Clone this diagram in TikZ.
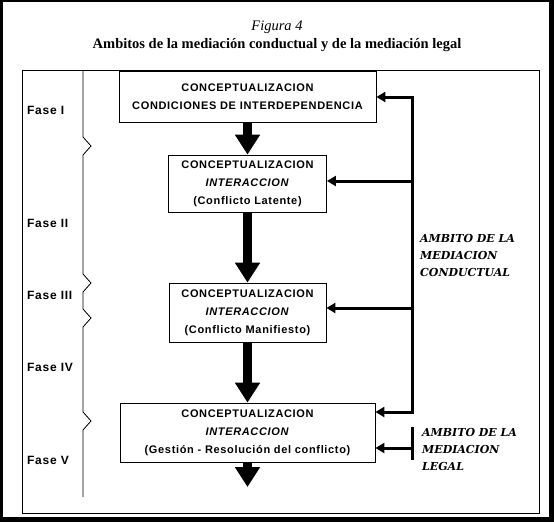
\documentclass[tikz,border=0pt]{standalone}
\usepackage{fontspec}
\setmainfont{Liberation Serif}
\setsansfont{Liberation Sans}
\newfontfamily\boxFamily[LetterSpace=6]{Liberation Sans}
\newfontfamily\ambitoFamily{DejaVu Serif}
\usetikzlibrary{arrows.meta,positioning}
\tikzstyle{diagram} = [x = 1pt, y = -1pt]
\tikzstyle{phaseBox} = [draw, line width=.8pt, align=center, inner sep=0pt, font=\boxFamily\bfseries\fontsize{11}{18}\selectfont]
\tikzstyle{flowArrow} = [line width=9pt, -{Triangle[length=20pt, width=24pt]}]
\tikzstyle{backLine} = [line width=3pt]
\tikzstyle{backArrow} = [line width=3pt, -{Triangle[length=9pt, width=10pt]}]
\tikzstyle{faseText} = [anchor=west, inner sep=0pt, font=\boxFamily\bfseries\fontsize{12}{14}\selectfont]
\tikzstyle{ambitoText} = [anchor=west, align=left, inner sep=0pt, font=\ambitoFamily\bfseries\itshape\fontsize{11}{17}\selectfont]
\tikzstyle{frameLine} = [line width=.8pt]
\begin{document}
\begin{tikzpicture}[diagram]
  \useasboundingbox (0,0) rectangle (554,522);
  % page edge
  \fill [black] (0,0) rectangle (554,522);
  \fill [white] (3,2) rectangle (549,517);
  % title
  \node [font=\itshape\fontsize{14.5}{16}\selectfont] (figNum) at (277,27) {Figura 4};
  \node [font=\bfseries\fontsize{14.5}{16}\selectfont] (figTitle) at (277,45) {Ambitos de la mediación conductual y de la mediación legal};
  % frame and phase column
  \draw [frameLine] (22,70) rectangle (539,513);
  \draw [frameLine] (83,70) foreach \y in {146,283,318,421} { -- (83,\y-9) -- (91,\y) -- (83,\y+9) } -- (83,497);
  \foreach \name/\ypos in {I/110, II/223, III/295, IV/367, V/460}
    \node [faseText] (fase\name) at (27,\ypos) {Fase \name};
  % boxes
  \node [phaseBox, minimum width=257pt, minimum height=51pt] (cond) at (247.5,97) {CONCEPTUALIZACION\\CONDICIONES DE INTERDEPENDENCIA};
  \node [phaseBox, minimum width=158pt, minimum height=57pt] (latente) at (247.5,183.5) {CONCEPTUALIZACION\\\textit{INTERACCION}\\(Conflicto Latente)};
  \node [phaseBox, minimum width=157pt, minimum height=59pt] (manifiesto) at (247.5,312.5) {CONCEPTUALIZACION\\\textit{INTERACCION}\\(Conflicto Manifiesto)};
  \node [phaseBox, minimum width=255pt, minimum height=59pt] (gestion) at (247.5,432.5) {CONCEPTUALIZACION\\\textit{INTERACCION}\\(Gestión - Resolución del conflicto)};
  \coordinate (salida) at (247.5,487);
  \draw [flowArrow] (cond) -- (latente);
  \draw [flowArrow] (latente) -- (manifiesto);
  \draw [flowArrow] (manifiesto) -- (gestion);
  \draw [flowArrow] (gestion) -- (salida);
  % feedback of the behavioural mediation
  \coordinate (fbTop) at (412,97);
  \coordinate (fbLatente) at (412,181);
  \coordinate (fbManifiesto) at (412,308);
  \coordinate (fbBot) at (412,412);
  \draw [backArrow] (fbBot) -- (fbTop) -- (cond.east |- fbTop);
  \draw [backArrow] (fbTop) -- (fbBot) -- (gestion.east |- fbBot);
  \draw [backArrow] (fbLatente) -- (latente.east |- fbLatente);
  \draw [backArrow] (fbManifiesto) -- (manifiesto.east |- fbManifiesto);
  % legal mediation
  \coordinate (legalTop) at (412,427);
  \coordinate (legalMid) at (412,448);
  \coordinate (legalBot) at (412,460);
  \draw [backLine] (legalTop) -- (legalBot);
  \draw [backArrow] (legalMid) -- (gestion.east |- legalMid);
  \node [ambitoText] (conductual) at (420,255) {AMBITO DE LA\\MEDIACION\\CONDUCTUAL};
  \node [ambitoText] (legal) at (422,449.5) {AMBITO DE LA\\MEDIACION\\LEGAL};
\end{tikzpicture}
\end{document}
